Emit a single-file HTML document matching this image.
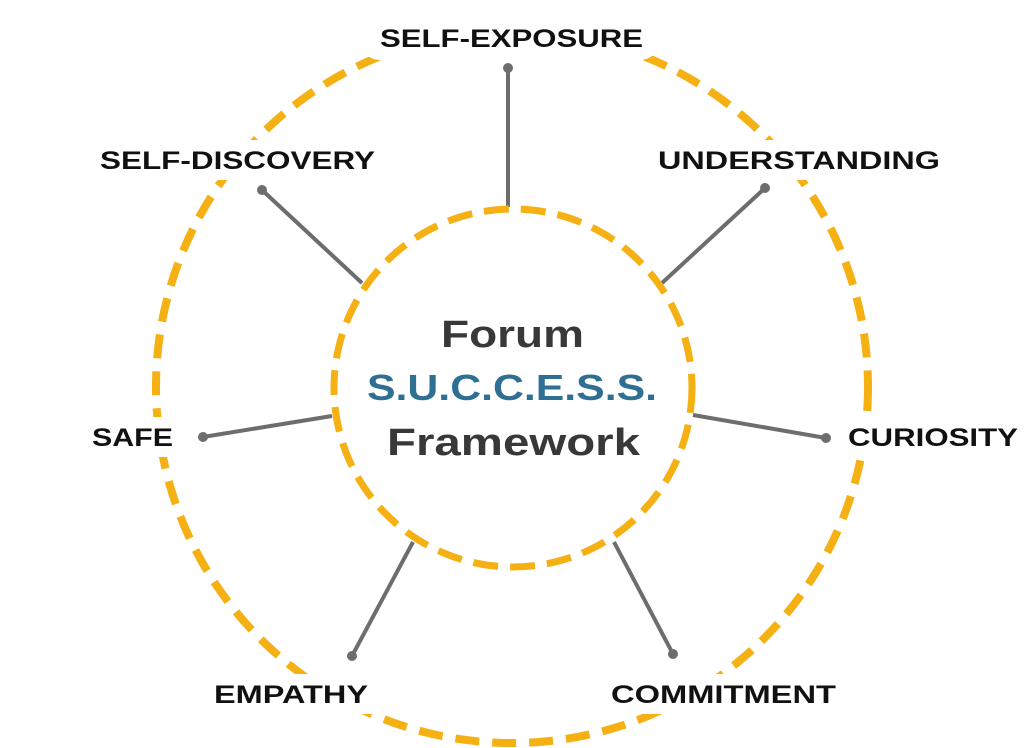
<!DOCTYPE html>
<html><head><style>
html,body{margin:0;padding:0;background:#fff;}
svg{display:block;}
.l{font-family:"Liberation Sans",sans-serif;font-weight:bold;font-size:25px;fill:#111;}
</style></head><body>
<svg width="1024" height="748" viewBox="0 0 1024 748">
<rect width="1024" height="748" fill="#fff"/>
<circle cx="512" cy="387" r="356" fill="none" stroke="#f5b014" stroke-width="8" stroke-dasharray="24 13"/>
<g stroke="#6d6d6d" stroke-width="4" fill="#6d6d6d">
<line x1="508" y1="68" x2="508" y2="207"/><circle cx="508" cy="68" r="5" stroke="none"/>
<line x1="262" y1="190" x2="362" y2="283"/><circle cx="262" cy="190" r="5" stroke="none"/>
<line x1="765" y1="188" x2="662" y2="283"/><circle cx="765" cy="188" r="5" stroke="none"/>
<line x1="203" y1="437" x2="332" y2="416"/><circle cx="203" cy="437" r="5" stroke="none"/>
<line x1="826" y1="438" x2="693" y2="415"/><circle cx="826" cy="438" r="5" stroke="none"/>
<line x1="352" y1="656" x2="413" y2="542"/><circle cx="352" cy="656" r="5" stroke="none"/>
<line x1="673" y1="654" x2="614" y2="542"/><circle cx="673" cy="654" r="5" stroke="none"/>
</g>
<circle cx="513" cy="388" r="179" fill="none" stroke="#f5b014" stroke-width="7" stroke-dasharray="25 12"/>
<g fill="#fff">
<rect x="360" y="12" width="300" height="48" rx="20"/>
<rect x="85" y="140" width="300" height="40" rx="10"/>
<rect x="645" y="140" width="305" height="40" rx="10"/>
<rect x="80" y="417" width="105" height="40" rx="10"/>
<rect x="838" y="417" width="186" height="40" rx="10"/>
<rect x="200" y="674" width="180" height="40" rx="10"/>
<rect x="598" y="674" width="250" height="40" rx="10"/>
</g>
<text class="l" x="380" y="47" textLength="263" lengthAdjust="spacingAndGlyphs">SELF-EXPOSURE</text>
<text class="l" x="100" y="169" textLength="275" lengthAdjust="spacingAndGlyphs">SELF-DISCOVERY</text>
<text class="l" x="658" y="169" textLength="282" lengthAdjust="spacingAndGlyphs">UNDERSTANDING</text>
<text class="l" x="92" y="446" textLength="81" lengthAdjust="spacingAndGlyphs">SAFE</text>
<text class="l" x="848" y="446" textLength="170" lengthAdjust="spacingAndGlyphs">CURIOSITY</text>
<text class="l" x="214" y="703" textLength="154" lengthAdjust="spacingAndGlyphs">EMPATHY</text>
<text class="l" x="611" y="703" textLength="225" lengthAdjust="spacingAndGlyphs">COMMITMENT</text>
<g font-family="Liberation Sans,sans-serif" font-weight="bold" font-size="38">
<text x="441" y="347" fill="#383838" textLength="143" lengthAdjust="spacingAndGlyphs">Forum</text>
<text x="367" y="400" fill="#2e6f93" textLength="290" lengthAdjust="spacingAndGlyphs" font-size="36">S.U.C.C.E.S.S.</text>
<text x="387" y="455" fill="#383838" textLength="253" lengthAdjust="spacingAndGlyphs">Framework</text>
</g>
</svg>
</body></html>
